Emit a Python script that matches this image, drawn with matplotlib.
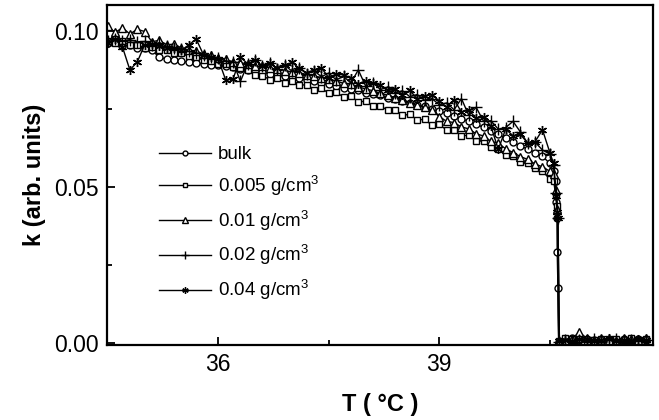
import numpy as np
import matplotlib.pyplot as plt

plt.rcParams['font.family'] = ['Liberation Sans', 'DejaVu Sans']
plt.rcParams['mathtext.fontset'] = 'custom'
plt.rcParams['mathtext.rm'] = 'Liberation Sans'

# temperature grid below the transition (deg C)
T_low = [34.5, 34.6, 34.7, 34.8, 34.9, 35.0, 35.1, 35.2, 35.3, 35.4,
         35.5, 35.6, 35.7, 35.8, 35.9, 36.0, 36.1, 36.2, 36.3, 36.4,
         36.5, 36.6, 36.7, 36.8, 36.9, 37.0, 37.1, 37.2, 37.3, 37.4,
         37.5, 37.6, 37.7, 37.8, 37.9, 38.0, 38.1, 38.2, 38.3, 38.4,
         38.5, 38.6, 38.7, 38.8, 38.9, 39.0, 39.1, 39.2, 39.3, 39.4,
         39.5, 39.6, 39.7, 39.8, 39.9, 40.0, 40.1, 40.2, 40.3, 40.4,
         40.5, 40.55]
# above the transition
T_high = [40.7, 40.8, 40.9, 41.0, 41.1, 41.2, 41.3, 41.4, 41.5, 41.6, 41.7, 41.8]

# k values in units of 1e-3
bulk_low = [96.0, 96.3, 95.2, 95.5, 94.6, 94.5, 93.8, 91.5, 91.0, 90.6,
            90.2, 90.0, 89.6, 89.5, 89.2, 89.0, 88.6, 88.4, 87.7, 87.5,
            87.0, 86.8, 86.1, 85.9, 85.4, 85.0, 84.8, 84.1, 83.8, 83.2,
            82.9, 82.3, 81.8, 81.3, 80.9, 80.2, 79.9, 79.3, 78.6, 78.1,
            77.5, 76.9, 76.1, 75.8, 75.0, 74.2, 73.6, 72.8, 71.8, 71.0,
            70.0, 69.1, 67.8, 66.9, 65.5, 64.4, 63.0, 62.2, 61.0, 59.8,
            57.5, 55.0]
bulk_drop_T = [40.58, 40.59, 40.6, 40.6, 40.61, 40.62]
bulk_drop = [52.0, 45.0, 40.0, 29.0, 17.6, 0.4]
bulk_high = [1.0, 1.4, 0.8, 1.2, 0.9, 0.6, 1.1, 0.8, 1.2, 0.7, 1.3, 0.9]

c005_low = [96.8, 96.0, 96.6, 95.5, 95.6, 94.6, 94.9, 93.8, 93.9, 93.0,
            92.8, 91.8, 91.5, 90.6, 90.3, 89.5, 89.3, 88.5, 88.2, 87.5,
            85.8, 85.6, 84.4, 84.9, 83.4, 83.8, 82.5, 82.8, 81.2, 81.6,
            80.0, 80.3, 78.8, 79.0, 77.3, 77.4, 75.8, 76.0, 74.5, 74.6,
            73.0, 73.2, 71.5, 71.6, 69.8, 70.0, 68.2, 68.3, 66.4, 66.5,
            64.8, 64.6, 62.7, 62.2, 60.3, 59.8, 58.0, 57.6, 56.0, 55.0,
            52.5, 52.0]
c005_drop_T = [40.58, 40.6, 40.62]
c005_drop = [47.5, 44.0, 0.5]
c005_high = [1.6, 1.1, 1.3, 0.7, 1.0, 1.2, 0.6, 1.1, 0.9, 1.4, 0.8, 1.1]

c01_low = [101.5, 99.5, 101.0, 99.0, 100.5, 99.8, 96.5, 97.0, 95.5, 95.8,
           94.5, 93.8, 93.6, 92.5, 92.2, 91.2, 90.9, 90.0, 89.8, 89.4,
           88.8, 88.6, 88.1, 87.7, 87.3, 86.8, 86.6, 86.0, 85.6, 85.0,
           84.5, 83.9, 83.2, 82.9, 82.0, 81.4, 80.8, 80.0, 79.4, 78.6,
           78.0, 77.0, 76.3, 75.5, 74.6, 72.5, 71.0, 70.6, 69.2, 68.6,
           67.0, 66.3, 64.6, 64.0, 62.2, 61.0, 59.7, 58.8, 57.3, 56.4,
           55.0, 54.0]
c01_drop_T = [40.58, 40.6, 40.62]
c01_drop = [49.0, 43.0, 0.6]
c01_high = [0.6, 1.3, 3.4, 1.5, 0.7, 1.6, 1.0, 0.6, 1.7, 1.2, 0.8, 1.5]

c02_low = [96.8, 97.5, 96.8, 97.2, 96.5, 96.6, 95.6, 96.2, 95.0, 94.6,
           94.3, 93.4, 93.0, 92.2, 91.6, 91.2, 90.4, 90.1, 83.8, 89.4,
           90.6, 88.6, 89.8, 87.8, 89.0, 87.1, 88.1, 86.3, 87.2, 85.3,
           86.5, 84.3, 85.4, 83.3, 87.5, 82.3, 83.4, 81.2, 82.0, 80.1,
           80.8, 78.9, 79.6, 77.7, 78.3, 76.3, 76.9, 74.7, 78.3, 72.9,
           75.5, 71.0, 71.2, 68.5, 69.0, 71.0, 67.6, 64.0, 64.3, 61.8,
           60.5, 57.0]
c02_drop_T = [40.59, 40.61, 40.63]
c02_drop = [48.0, 40.0, 0.4]
c02_high = [0.8, 0.5, 1.0, 0.6, 1.3, 0.4, 0.9, 1.2, 0.5, 1.0, 0.6, 0.9]

c04_low = [96.2, 97.3, 94.8, 87.5, 90.0, 95.5, 95.8, 95.0, 94.5, 94.5,
           93.8, 95.5, 97.4, 92.3, 91.5, 90.9, 84.3, 84.5, 91.5, 89.5,
           90.6, 88.8, 89.8, 88.0, 89.0, 89.9, 88.0, 86.5, 87.5, 88.1,
           85.0, 86.2, 85.9, 84.8, 83.0, 84.0, 83.3, 82.5, 80.9, 81.4,
           79.6, 80.9, 78.2, 79.2, 79.5, 77.5, 75.5, 78.0, 74.0, 74.5,
           72.0, 72.3, 69.5, 62.0, 68.5, 66.4, 66.8, 64.0, 64.5, 68.3,
           61.0, 57.5]
c04_drop_T = [40.58, 40.6, 40.61, 40.63]
c04_drop = [47.0, 42.0, 40.0, 0.5]
c04_high = [0.9, 0.7, 1.1, 1.3, 0.5, 1.0, 1.4, 0.7, 1.0, 0.5, 1.2, 0.8]

labels = ['bulk', r'0.005 g/cm$^3$', r'0.01 g/cm$^3$', r'0.02 g/cm$^3$', r'0.04 g/cm$^3$']
series = [(bulk_low, bulk_drop_T, bulk_drop, bulk_high),
          (c005_low, c005_drop_T, c005_drop, c005_high),
          (c01_low, c01_drop_T, c01_drop, c01_high),
          (c02_low, c02_drop_T, c02_drop, c02_high),
          (c04_low, c04_drop_T, c04_drop, c04_high)]
markers = ['o', 's', '^', '+', (6, 2, 0)]
msizes = [5, 5, 6, 8, 6.5]

fig = plt.figure(figsize=(6.59, 4.2), dpi=100)
ax = fig.add_axes([0.1624, 0.1786, 0.8285, 0.8095])

for (low, dT, dk, high), lab, m, ms in zip(series, labels, markers, msizes):
    T = T_low + dT + T_high
    k = np.array(low + dk + high) * 1e-3
    ax.plot(T, k, color='black', lw=1.0, marker=m, ms=ms, mfc='white',
            mec='black', mew=1.0, label=lab)

ax.set_xlim(34.49, 41.9)
ax.set_ylim(-0.0007, 0.1083)
ax.set_xticks([36, 39])
ax.set_xticks([37.5, 40.5], minor=True)
ax.set_yticks([0.0, 0.05, 0.10])
ax.set_yticks([0.025, 0.075], minor=True)
ax.set_yticklabels(['0.00', '0.05', '0.10'])
ax.tick_params(which='both', direction='in', width=1.3, labelsize=16.5, pad=6)
ax.tick_params(which='major', length=6)
ax.tick_params(which='minor', length=3.5)
for s in ax.spines.values():
    s.set_linewidth(1.6)

ax.set_xlabel('T ( °C )', fontsize=17, fontweight='bold', labelpad=12)
ax.set_ylabel('k (arb. units)', fontsize=17, fontweight='bold', labelpad=6)

leg = ax.legend(loc='upper left', bbox_to_anchor=(0.095, 0.585), frameon=False,
                fontsize=13.5, handlelength=2.8, handletextpad=0.35,
                labelspacing=0.53, borderpad=0, borderaxespad=0, markerscale=0.7)

plt.savefig('out.png', dpi=100)
